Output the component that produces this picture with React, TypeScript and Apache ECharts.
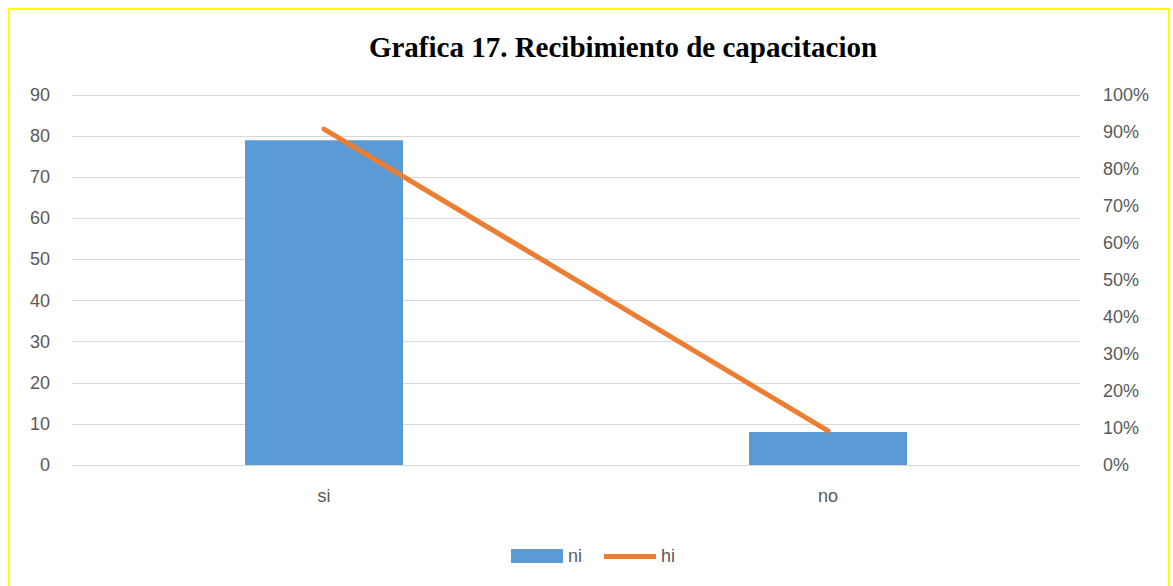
import React, { useEffect, useRef } from "react";
import * as echarts from "echarts";

const categories = ["si", "no"];
const niValues = [79, 8];
const hiValues = [0.908, 0.092];
const leftTicks = [0, 10, 20, 30, 40, 50, 60, 70, 80, 90];

export default function App() {
  const ref = useRef<HTMLDivElement>(null);
  useEffect(() => {
    document.documentElement.style.overflow = "hidden";
    const chart = echarts.init(ref.current!, null, { renderer: "svg" });
    const labelColor = "#595959";
    chart.setOption({
      animation: false,
      title: {
        text: "Grafica 17. Recibimiento de capacitacion",
        left: 608,
        top: 17,
        textAlign: "center",
        textStyle: {
          fontFamily: "Liberation Serif",
          fontWeight: "bold",
          fontSize: 29,
          color: "#000",
        },
      },
      grid: { left: 62, right: 88, top: 85, bottom: 121 },
      legend: {
        left: 496,
        top: 532,
        itemWidth: 52,
        itemHeight: 14,
        itemGap: 22,
        textStyle: { color: labelColor, fontSize: 18, fontFamily: "Liberation Sans" },
        data: [
          { name: "ni", icon: "rect" },
          { name: "hi", icon: "path://M0,0 M0,5 L52,5 L52,10 L0,10 Z M52,14" },
        ],
      },
      xAxis: {
        type: "category",
        data: categories,
        axisTick: { show: false },
        axisLine: { lineStyle: { color: "#d9d9d9", width: 1 } },
        axisLabel: { color: labelColor, fontSize: 18, fontFamily: "Liberation Sans", margin: 22 },
      },
      yAxis: [
        {
          type: "value",
          min: leftTicks[0],
          max: leftTicks[leftTicks.length - 1],
          interval: 10,
          axisLine: { show: false },
          axisTick: { show: false },
          splitLine: { lineStyle: { color: "#d9d9d9", width: 1 } },
          axisLabel: { color: labelColor, fontSize: 18, fontFamily: "Liberation Sans", margin: 22 },
        },
        {
          type: "value",
          min: 0,
          max: 1,
          interval: 0.1,
          axisLine: { show: false },
          axisTick: { show: false },
          splitLine: { show: false },
          axisLabel: {
            color: labelColor,
            fontSize: 18,
            fontFamily: "Liberation Sans",
            margin: 23,
            formatter: (v: number) => Math.round(v * 100) + "%",
          },
        },
      ],
      series: [
        {
          name: "ni",
          type: "bar",
          data: niValues,
          barWidth: 158,
          itemStyle: { color: "#5B9BD5" },
        },
        {
          name: "hi",
          type: "line",
          yAxisIndex: 1,
          data: hiValues,
          symbol: "none",
          lineStyle: { color: "#ED7D31", width: 5, cap: "round" },
          itemStyle: { color: "#ED7D31" },
        },
      ],
    });
    return () => chart.dispose();
  }, []);
  return (
    <div
      style={{
        position: "absolute",
        left: 8,
        top: 8,
        width: 1158,
        height: 580,
        border: "2px solid #FFFF00",
        background: "#fff",
      }}
    >
      <div ref={ref} style={{ width: 1158, height: 576 }} />
    </div>
  );
}
